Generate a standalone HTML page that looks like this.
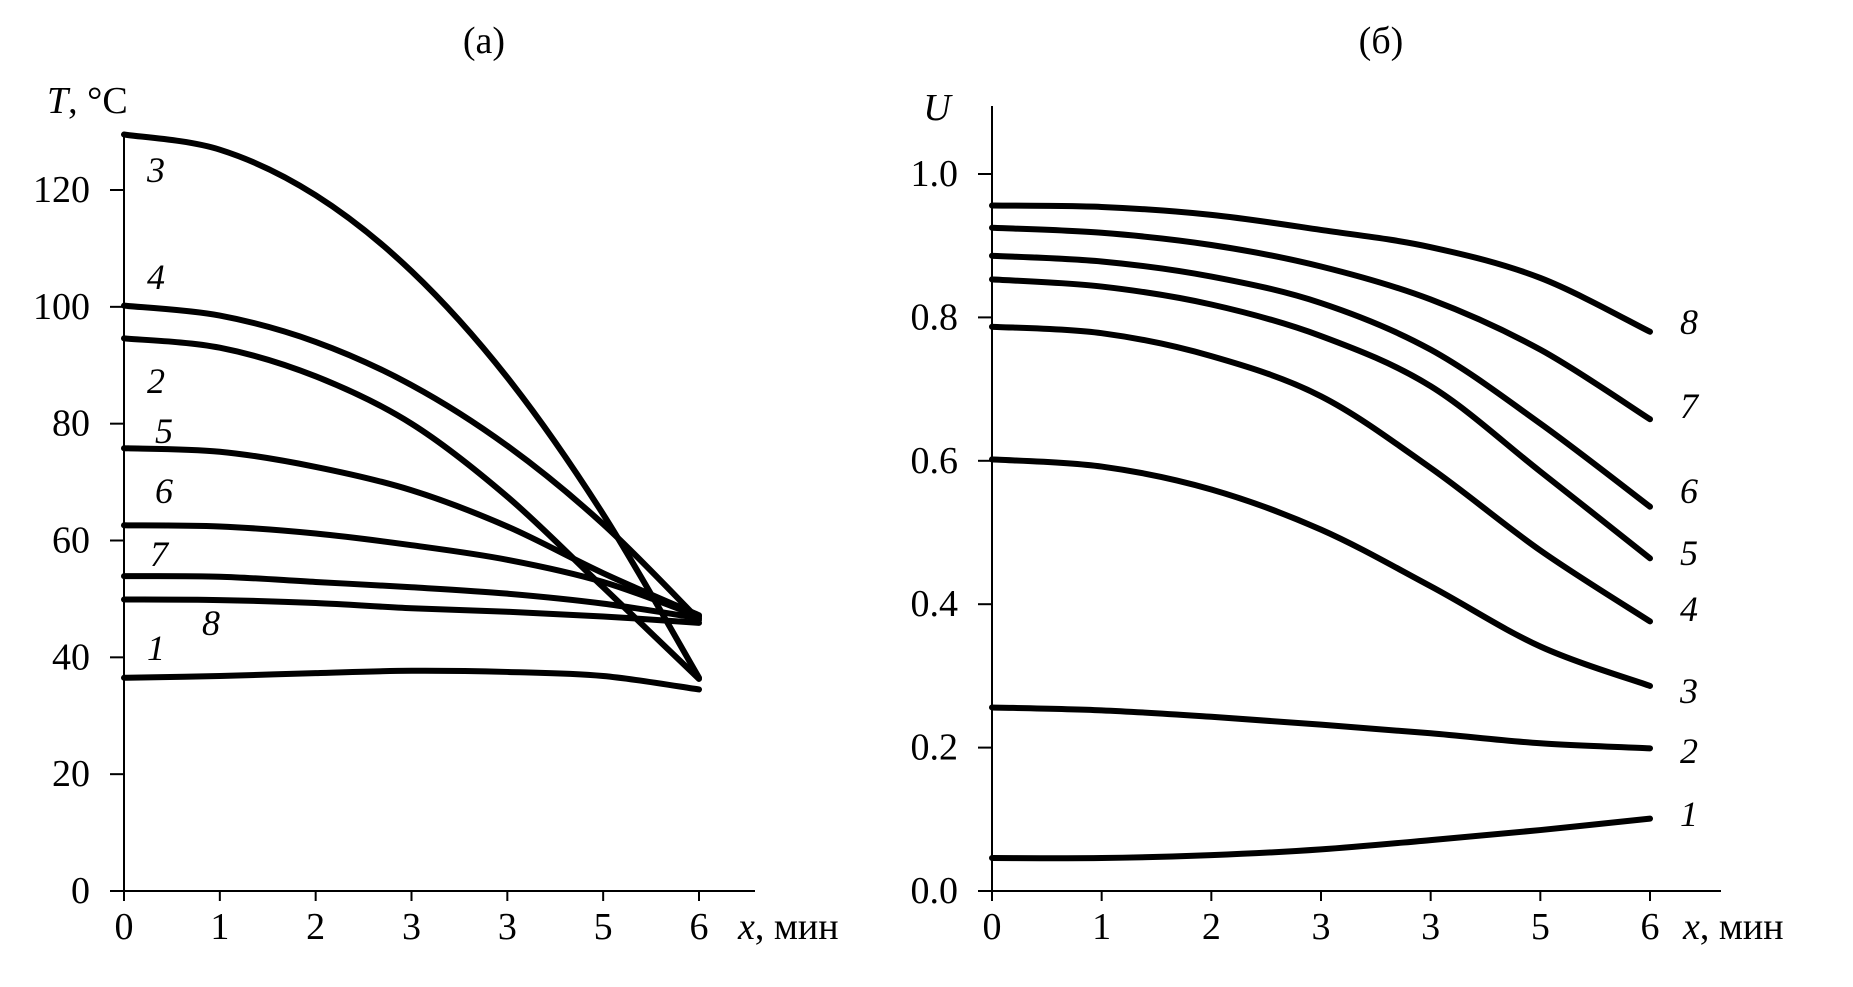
<!DOCTYPE html>
<html><head><meta charset="utf-8"><style>
html,body{margin:0;padding:0;background:#fff;width:1853px;height:987px;overflow:hidden}
svg text{font-family:"Liberation Serif",serif;fill:#000}
</style></head><body>
<svg id="c" width="1853" height="987" viewBox="0 0 1853 987"></svg>
<script>
const xTicks=[0,1,2,3,4,5,6];
const xTickLabels=["0","1","2","3","3","5","6"];
const xs=[0,1,2,3,4,5,6];
const tTicks=[0,20,40,60,80,100,120];
const uTicks=[0,0.2,0.4,0.6,0.8,1.0];
const uTickLabels=["0.0","0.2","0.4","0.6","0.8","1.0"];
const T1=[36.5,36.8,37.3,37.7,37.5,36.8,34.5];
const T2=[94.6,93,88.1,80,67.5,52,36.3];
const T3=[129.5,126.9,119.1,106.1,87.9,64.5,36.5];
const T4=[100.2,98.5,94,86.6,76.2,62.8,46.4];
const T5=[75.8,75.2,72.6,68.6,62.4,54.4,47.2];
const T6=[62.6,62.4,61.2,59.2,56.7,52.9,47];
const T7=[53.9,53.8,52.9,52,50.9,49.2,46.7];
const T8=[49.9,49.8,49.3,48.4,47.8,47,45.9];
const U1=[0.046,0.046,0.050,0.058,0.071,0.085,0.101];
const U2=[0.256,0.252,0.243,0.232,0.220,0.206,0.199];
const U3=[0.602,0.592,0.560,0.504,0.425,0.341,0.286];
const U4=[0.787,0.778,0.746,0.690,0.590,0.475,0.376];
const U5=[0.853,0.843,0.818,0.774,0.704,0.585,0.464];
const U6=[0.886,0.878,0.857,0.820,0.755,0.652,0.536];
const U7=[0.925,0.918,0.901,0.871,0.825,0.755,0.658];
const U8=[0.956,0.954,0.943,0.922,0.898,0.855,0.780];
const tSeries=[T1,T2,T3,T4,T5,T6,T7,T8];
const uSeries=[U1,U2,U3,U4,U5,U6,U7,U8];
const seriesNames=["1","2","3","4","5","6","7","8"];

const NS="http://www.w3.org/2000/svg";
const svg=document.getElementById('c');
function mk(tag,attrs,parent){const e=document.createElementNS(NS,tag);for(const k in attrs)e.setAttribute(k,attrs[k]);(parent||svg).appendChild(e);return e;}
function txt(s,x,y,size,anchor,italic,parent){const e=mk('text',{x:x,y:y,'font-size':size,'text-anchor':anchor||'middle','dominant-baseline':'central'},parent);if(italic)e.setAttribute('font-style','italic');e.textContent=s;return e;}
function smooth(pts){let d='M'+pts[0][0]+','+pts[0][1];for(let i=0;i<pts.length-1;i++){const p0=pts[i-1]||pts[i],p1=pts[i],p2=pts[i+1],p3=pts[i+2]||p2;const c1x=p1[0]+(p2[0]-p0[0])/6,c1y=p1[1]+(p2[1]-p0[1])/6,c2x=p2[0]-(p3[0]-p1[0])/6,c2y=p2[1]-(p3[1]-p1[1])/6;d+=' C'+c1x+','+c1y+' '+c2x+','+c2y+' '+p2[0]+','+p2[1];}return d;}

function chart(cfg){
  const g=mk('g',{});
  
  
  const X=v=>cfg.x0+(v-0)*(cfg.x6-cfg.x0)/6;
  const Y=v=>cfg.y0+(v-cfg.vmin)*(cfg.ytop-cfg.y0)/(cfg.vtop-cfg.vmin);
  const ax=mk('path',{d:'M'+cfg.x0+','+cfg.axTop+' V'+cfg.y0+' H'+cfg.axRight,stroke:'#000','stroke-width':2,fill:'none'},g);
  
  
  cfg.yTicks.forEach((v,i)=>{
    const y=Y(v);
    mk('line',{x1:cfg.x0-14,x2:cfg.x0,y1:y,y2:y,stroke:'#000','stroke-width':2},g);
    const t=txt(cfg.yLabels[i],cfg.x0-34,y,38,'end',false,g);
    
    
  });
  xTicks.forEach((v,i)=>{
    const x=X(v);
    mk('line',{x1:x,x2:x,y1:cfg.y0,y2:cfg.y0+10,stroke:'#000','stroke-width':2},g);
    const t=txt(xTickLabels[i],x,cfg.y0+36,38,'middle',false,g);
    
    
  });
  cfg.series.forEach((s,k)=>{
    const p=mk('path',{d:smooth(s.map((v,i)=>[X(xs[i]),Y(v)])),stroke:'#000','stroke-width':6,fill:'none','stroke-linecap':'round'},g);
    
    
    const lp=cfg.labelPos[k];
    const t=txt(seriesNames[k],lp[0],lp[1],36,'middle',true,g);
    
    
  });
  return g;
}

chart({name:'chart-a',x0:124,x6:699,axRight:755,axTop:135,y0:891,ytop:190,vmin:0,vtop:120,
  yTicks:tTicks,yLabels:tTicks.map(String),series:tSeries,
  labelPos:[[156,648],[156,381],[156,170],[156,277],[164,431],[164,491],[159,554],[211,623]]});
chart({name:'chart-b',x0:992,x6:1650,axRight:1721,axTop:106,y0:891,ytop:174,vmin:0,vtop:1.0,
  yTicks:uTicks,yLabels:uTickLabels,series:uSeries,
  labelPos:[[1689,814],[1689,751],[1689,691],[1689,609],[1689,553],[1689,491],[1689,406],[1689,322]]});

let t;
t=txt('(a)',484,41,38);


t=txt('(б)',1381,41,38);


t=mk('text',{x:47,y:101,'font-size':38,'dominant-baseline':'central'});
t.innerHTML='<tspan font-style="italic">T</tspan>, °C';


t=txt('U',937,108,38,'middle',true);


t=mk('text',{x:738,y:927,'font-size':38,'dominant-baseline':'central'});
t.innerHTML='<tspan font-style="italic">x</tspan>, мин';


t=mk('text',{x:1683,y:927,'font-size':38,'dominant-baseline':'central'});
t.innerHTML='<tspan font-style="italic">x</tspan>, мин';


</script>
</body></html>
